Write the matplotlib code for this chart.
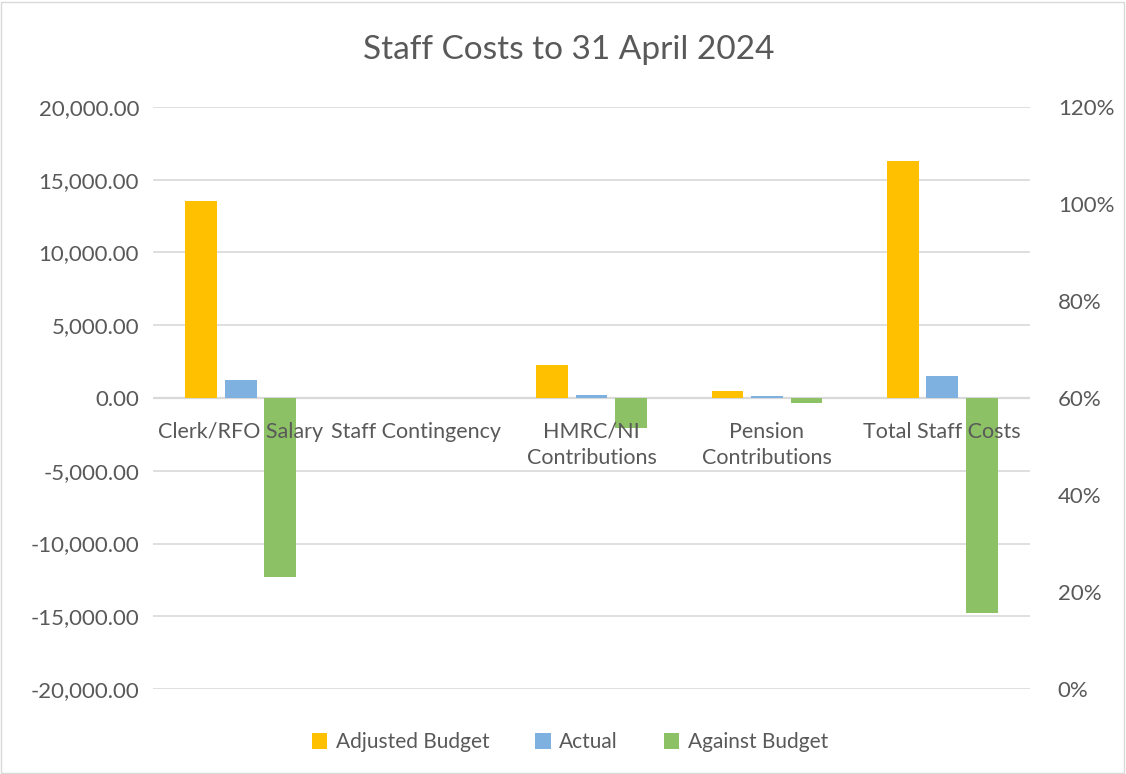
import numpy as np
import matplotlib
matplotlib.use("Agg")
import matplotlib.pyplot as plt
from matplotlib.ticker import FuncFormatter, MultipleLocator
from matplotlib.patches import Rectangle

# ===============================
# Data
# ===============================
CATEGORIES = ["Clerk/RFO Salary", "Staff Contingency", "HMRC/NI\nContributions",
              "Pension\nContributions", "Total Staff Costs"]
ADJUSTED_BUDGET = [13560, 0, 2260, 480, 16300]
ACTUAL = [1230, 0, 190, 110, 1530]
AGAINST_BUDGET = [-12330, 0, -2070, -370, -14770]

SERIES = {
    "Adjusted Budget": (ADJUSTED_BUDGET, "#FFC000"),
    "Actual": (ACTUAL, "#7EB0E0"),
    "Against Budget": (AGAINST_BUDGET, "#8DC166"),
}

TEXT = "#595959"
GRID = "#D9D9D9"
plt.rcParams["font.family"] = ["Lato", "DejaVu Sans"]

# ===============================
# Plot
# ===============================
fig = plt.figure(figsize=(11.26, 7.74), dpi=100)
fig.patches.append(Rectangle((0.001, 0.001), 0.997, 0.997, transform=fig.transFigure,
                             fill=False, edgecolor=GRID, linewidth=1))
ax = fig.add_axes([0.1359, 0.1098, 0.7788, 0.752])

x = np.arange(len(CATEGORIES))
width = 0.18
offsets = [-0.225, 0, 0.225]
for (name, (vals, color)), off in zip(SERIES.items(), offsets):
    ax.bar(x + off, vals, width, color=color, label=name, zorder=3)

ax.set_xlim(-0.5, len(CATEGORIES) - 0.5)
ax.set_ylim(-20000, 20000)
ax.yaxis.set_major_locator(MultipleLocator(5000))
ax.yaxis.set_major_formatter(FuncFormatter(lambda v, _: f"{v:,.2f}"))
ax.grid(axis="y", color=GRID, linewidth=1.2, zorder=0)
ax.axhline(0, color=GRID, linewidth=1.6, zorder=2)
ax.set_xticks([])
for s in ax.spines.values():
    s.set_visible(False)
ax.tick_params(axis="y", length=0, labelsize=16, labelcolor=TEXT, pad=10)

for i, cat in enumerate(CATEGORIES):
    ax.annotate(cat, (i, 0), xytext=(0, -17), textcoords="offset points",
                ha="center", va="top", fontsize=15.5, color=TEXT,
                linespacing=1.4, zorder=4)

ax2 = ax.twinx()
ax2.set_ylim(0, 1.2)
ax2.yaxis.set_major_locator(MultipleLocator(0.2))
ax2.yaxis.set_major_formatter(FuncFormatter(lambda v, _: f"{v*100:.0f}%"))
for s in ax2.spines.values():
    s.set_visible(False)
ax2.tick_params(axis="y", length=0, labelsize=16, labelcolor=TEXT, pad=20)

fig.text(0.505, 0.935, "Staff Costs to 31 April 2024", ha="center", va="center",
         fontsize=24, color=TEXT)

fig.legend(loc="center", bbox_to_anchor=(0.506, 0.041), ncol=3, frameon=False,
           fontsize=15, labelcolor=TEXT, handlelength=0.75, handleheight=0.75,
           columnspacing=2.2, handletextpad=0.4)

fig.savefig("out.png", dpi=100)
